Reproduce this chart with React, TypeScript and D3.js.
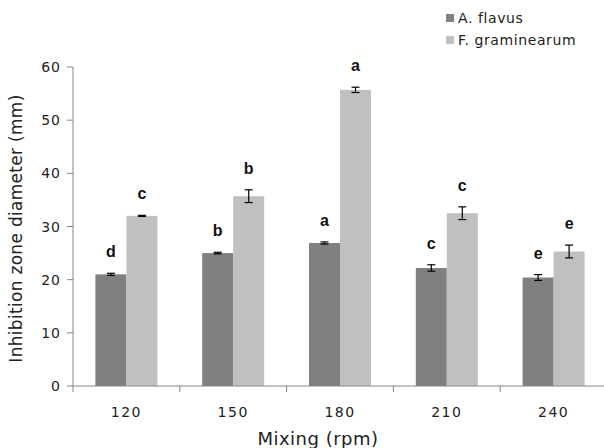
import React from 'react';
import * as d3 from 'd3';

const categories = ['120', '150', '180', '210', '240'];
const seriesNames = ['A. flavus', 'F. graminearum'];
const flavus = [21.0, 25.0, 26.9, 22.2, 20.4];
const flavusErr = [0.2, 0.15, 0.2, 0.6, 0.55];
const flavusLetters = ['d', 'b', 'a', 'c', 'e'];
const gram = [32.0, 35.7, 55.7, 32.5, 25.3];
const gramErr = [0.1, 1.2, 0.5, 1.2, 1.2];
const gramLetters = ['c', 'b', 'a', 'c', 'e'];
const yTicks = [0, 10, 20, 30, 40, 50, 60];
const colors = ['#808080', '#c0c0c0'];

const App = () => {
    const width = 604;
    const height = 448;
    const left = 73;
    const right = 607;
    const top = 67;
    const bottom = 386;

    const x = d3.scaleBand().domain(categories).range([left, right]).paddingInner(0).paddingOuter(0);
    const y = d3.scaleLinear().domain([0, 60]).range([bottom, top]);
    const bw = x.bandwidth();
    const barW = 31;

    const series = [
        { values: flavus, err: flavusErr, letters: flavusLetters },
        { values: gram, err: gramErr, letters: gramLetters },
    ];

    const font = '"DejaVu Sans", Tahoma, sans-serif';
    const axisColor = '#868686';

    return (
        <svg width={width} height={height} style={{ position: 'absolute', left: 0, top: 0 }}>
            <rect width={width} height={height} fill="#fff" />
            {/* bars */}
            {series.map((s, si) =>
                categories.map((c, i) => {
                    const x0 = (x(c) as number) + bw / 2 - barW + si * barW;
                    const v = s.values[i];
                    const e = s.err[i];
                    const cx = x0 + barW / 2;
                    return (
                        <g key={`${si}-${c}`}>
                            <rect x={x0} y={y(v)} width={barW} height={bottom - y(v)} fill={colors[si]} />
                            <line x1={cx} x2={cx} y1={y(v - e)} y2={y(v + e)} stroke="#000" strokeWidth={1.2} />
                            <line x1={cx - 4} x2={cx + 4} y1={y(v + e)} y2={y(v + e)} stroke="#000" strokeWidth={1.2} />
                            <line x1={cx - 4} x2={cx + 4} y1={y(v - e)} y2={y(v - e)} stroke="#000" strokeWidth={1.2} />
                            <text
                                x={cx}
                                y={y(v + e) - 16}
                                textAnchor="middle"
                                fontFamily="Arial, 'Liberation Sans', sans-serif"
                                fontWeight="bold"
                                fontSize={16}
                                fill="#111"
                            >
                                {s.letters[i]}
                            </text>
                        </g>
                    );
                })
            )}
            {/* y axis */}
            <line x1={left} x2={left} y1={top} y2={bottom} stroke={axisColor} />
            {yTicks.map((t) => (
                <g key={t}>
                    <line x1={left - 6} x2={left} y1={y(t)} y2={y(t)} stroke={axisColor} />
                    <text x={left - 12} y={y(t) + 5} textAnchor="end" fontFamily={font} fontSize={14} letterSpacing={1} fill="#222">
                        {t}
                    </text>
                </g>
            ))}
            {/* x axis */}
            <line x1={left} x2={right} y1={bottom} y2={bottom} stroke={axisColor} />
            {categories.map((c) => (
                <g key={c}>
                    <line x1={x(c)} x2={x(c)} y1={bottom} y2={bottom + 6} stroke={axisColor} />
                    <text
                        x={(x(c) as number) + bw / 2}
                        y={417}
                        textAnchor="middle"
                        fontFamily={font}
                        fontSize={14}
                        letterSpacing={1.5}
                        fill="#222"
                    >
                        {c}
                    </text>
                </g>
            ))}
            <line x1={right} x2={right} y1={bottom} y2={bottom + 6} stroke={axisColor} />
            {/* axis titles */}
            <text x={318} y={445} textAnchor="middle" fontFamily={font} fontSize={18} letterSpacing={0.5} fill="#222">
                Mixing (rpm)
            </text>
            <text
                transform={`translate(22, ${(top + bottom) / 2 + 2}) rotate(-90)`}
                textAnchor="middle"
                fontFamily={font}
                fontSize={17}
                letterSpacing={0.3}
                fill="#222"
            >
                Inhibition zone diameter (mm)
            </text>
            {/* legend */}
            {seriesNames.map((n, i) => (
                <g key={n} transform={`translate(446, ${14 + i * 22})`}>
                    <rect x={0} y={0} width={8} height={8} fill={colors[i]} />
                    <text x={12} y={9} fontFamily={font} fontSize={14} letterSpacing={0.6} fill="#222">
                        {n}
                    </text>
                </g>
            ))}
        </svg>
    );
};

export default App;
